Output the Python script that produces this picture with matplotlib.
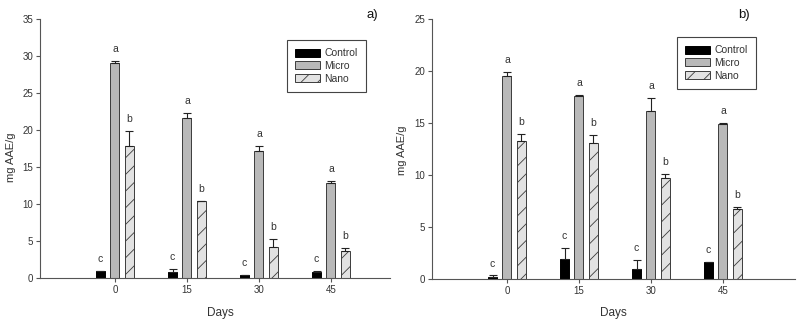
"""
Antioxidant content (mg AAE/g) over storage days, panels a) and b).
Control / Micro / Nano bars with upper error bars and significance letters.
"""

import numpy as np
import matplotlib
matplotlib.use("Agg")
import matplotlib.pyplot as plt
import matplotlib.patches as mpatches

DAYS = ["0", "15", "30", "45"]
SERIES = ["Control", "Micro", "Nano"]
LETTERS = ["c", "a", "b"]

# panel a)
A_CONTROL = [0.9, 0.8, 0.45, 0.75]
A_CONTROL_ERR = [0.05, 0.45, 0.0, 0.2]
A_MICRO = [29.0, 21.6, 17.1, 12.9]
A_MICRO_ERR = [0.35, 0.65, 0.7, 0.2]
A_NANO = [17.9, 10.4, 4.2, 3.65]
A_NANO_ERR = [2.0, 0.0, 1.1, 0.4]

# panel b)
B_CONTROL = [0.22, 1.95, 0.97, 1.7]
B_CONTROL_ERR = [0.15, 1.1, 0.9, 0.0]
B_MICRO = [19.55, 17.65, 16.2, 14.95]
B_MICRO_ERR = [0.4, 0.1, 1.2, 0.1]
B_NANO = [13.3, 13.1, 9.7, 6.73]
B_NANO_ERR = [0.65, 0.77, 0.4, 0.26]

STYLE = {
    "Control": dict(color="#000000", edgecolor="#000000", hatch=None),
    "Micro":   dict(color="#b9b9b9", edgecolor="#3c3c3c", hatch=None),
    "Nano":    dict(color="#e2e2e2", edgecolor="#3c3c3c", hatch="//"),
}

plt.rcParams.update({
    "font.family": ["Liberation Sans", "DejaVu Sans"],
    "font.size": 7,
    "hatch.color": "#555555",
    "hatch.linewidth": 0.6,
})

TEXT_COLOR = "#333333"
AXIS_COLOR = "#555555"


def panel(ax, vals, errs, ymax, yticks, xmax):
    x = np.arange(len(DAYS))
    width = 0.125
    offsets = [-0.2, 0.0, 0.2]
    for name, v, e, off, let in zip(SERIES, vals, errs, offsets, LETTERS):
        st = STYLE[name]
        ax.bar(x + off, v, width=width, color=st["color"],
               edgecolor=st["edgecolor"], hatch=st["hatch"], linewidth=0.7,
               zorder=2)
        ax.errorbar(x + off, v, yerr=[np.zeros(len(e)), e], fmt="none",
                    ecolor="#222222", elinewidth=0.8, capsize=3,
                    capthick=0.8, zorder=3)
        for xi, vi, ei in zip(x + off, v, e):
            ax.annotate(let, (xi, vi + ei), xytext=(0, 5),
                        textcoords="offset points", ha="center", va="bottom",
                        fontsize=7.5, color=TEXT_COLOR)

    ax.set_xlim(-1.04, xmax)
    ax.set_ylim(0, ymax)
    ax.set_yticks(yticks)
    ax.set_xticks(x)
    ax.set_xticklabels(DAYS)
    for s in ("top", "right"):
        ax.spines[s].set_visible(False)
    for s in ("left", "bottom"):
        ax.spines[s].set_color(AXIS_COLOR)
        ax.spines[s].set_linewidth(0.8)
    ax.tick_params(axis="both", direction="out", length=3, width=0.8,
                   color=AXIS_COLOR, labelcolor=TEXT_COLOR, labelsize=7,
                   pad=2)


def legend(ax, anchor):
    handles = [
        mpatches.Patch(facecolor=STYLE[n]["color"],
                       edgecolor=STYLE[n]["edgecolor"],
                       hatch=STYLE[n]["hatch"], linewidth=0.7, label=n)
        for n in SERIES
    ]
    leg = ax.legend(handles=handles, loc="upper left", bbox_to_anchor=anchor,
                    fontsize=7.5, fancybox=False, framealpha=1,
                    edgecolor="#444444", handlelength=2.4, handleheight=0.8,
                    handletextpad=0.4, labelspacing=0.25, borderpad=0.8,
                    borderaxespad=0)
    leg.get_frame().set_linewidth(0.8)
    for t in leg.get_texts():
        t.set_color(TEXT_COLOR)


fig = plt.figure(figsize=(8.02, 3.26), dpi=100)
ax1 = fig.add_axes([40 / 802, 1 - 278 / 326, 350 / 802, 259 / 326])
ax2 = fig.add_axes([432 / 802, 1 - 279.3 / 326, 363 / 802, 260 / 326])

panel(ax1, [A_CONTROL, A_MICRO, A_NANO],
      [A_CONTROL_ERR, A_MICRO_ERR, A_NANO_ERR], 35, range(0, 36, 5), 3.82)
panel(ax2, [B_CONTROL, B_MICRO, B_NANO],
      [B_CONTROL_ERR, B_MICRO_ERR, B_NANO_ERR], 25, range(0, 26, 5), 4.0)

legend(ax1, (0.706, 0.919))
legend(ax2, (0.675, 0.932))

fig.text(11 / 802, 1 - 157 / 326, "mg AAE/g", rotation=90, ha="center",
         va="center", fontsize=8, color=TEXT_COLOR)
fig.text(402 / 802, 1 - 150 / 326, "mg AAE/g", rotation=90, ha="center",
         va="center", fontsize=8, color=TEXT_COLOR)
fig.text(220 / 802, 1 - 313 / 326, "Days", ha="center", va="center",
         fontsize=8.5, color=TEXT_COLOR)
fig.text(613 / 802, 1 - 313 / 326, "Days", ha="center", va="center",
         fontsize=8.5, color=TEXT_COLOR)
fig.text(372 / 802, 1 - 15 / 326, "a)", ha="center", va="center",
         fontsize=9.5, color="#111111")
fig.text(744 / 802, 1 - 15 / 326, "b)", ha="center", va="center",
         fontsize=9.5, color="#111111")

fig.savefig("out.png", dpi=100)
